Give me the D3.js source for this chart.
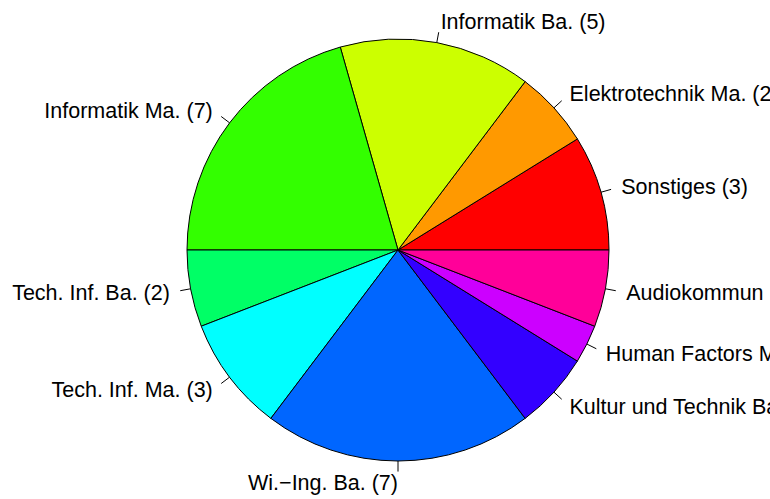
<!DOCTYPE html>
<html>
<head>
<meta charset="utf-8">
<script src="https://cdn.jsdelivr.net/npm/d3@7"></script>
<style>
  html, body { margin: 0; padding: 0; background: #fff; overflow: hidden; }
</style>
</head>
<body>
<div id="chart"></div>
<script>
// slices, counter-clockwise from 3 o'clock (R pie order)
const labels = [
  "Sonstiges (3)",
  "Elektrotechnik Ma. (2)",
  "Informatik Ba. (5)",
  "Informatik Ma. (7)",
  "Tech. Inf. Ba. (2)",
  "Tech. Inf. Ma. (3)",
  "Wi.\u2212Ing. Ba. (7)",
  "Kultur und Technik Ba. (2)",
  "Human Factors Ma. (1)",
  "Audiokommun"
];
const counts = [3, 2, 5, 7, 2, 3, 7, 2, 1, 2];
const colors = ["#FF0000", "#FF9900", "#CCFF00", "#33FF00", "#00FF66",
                "#00FFFF", "#0066FF", "#3300FF", "#CC00FF", "#FF0099"];

const width = 770, height = 499;
const cx = 398, cy = 250, r = 211;

const svg = d3.select("#chart").append("svg")
  .attr("width", width)
  .attr("height", height)
  .style("display", "block");

const g = svg.append("g")
  .attr("transform", "translate(" + cx + "," + cy + ")");

const data = counts.map((v, i) => ({ label: labels[i], value: v, color: colors[i] }));

// d3 angles run clockwise from 12 o'clock, so go from 90deg backwards
const pie = d3.pie()
  .value(d => d.value)
  .sort(null)
  .startAngle(Math.PI / 2)
  .endAngle(Math.PI / 2 - 2 * Math.PI);

const arc = d3.arc().innerRadius(0).outerRadius(r);
const arcs = pie(data);

g.selectAll("path.slice")
  .data(arcs)
  .join("path")
  .attr("class", "slice")
  .attr("d", arc)
  .attr("fill", d => d.data.color)
  .attr("stroke", "#000")
  .attr("stroke-width", 1);

const mid = d => (d.startAngle + d.endAngle) / 2;

// tick marks
g.selectAll("line.tick")
  .data(arcs)
  .join("line")
  .attr("class", "tick")
  .attr("x1", d => r * Math.sin(mid(d)))
  .attr("y1", d => -r * Math.cos(mid(d)))
  .attr("x2", d => 1.05 * r * Math.sin(mid(d)))
  .attr("y2", d => -1.05 * r * Math.cos(mid(d)))
  .attr("stroke", "#000")
  .attr("stroke-width", 1);

g.selectAll("text.lab")
  .data(arcs)
  .join("text")
  .attr("class", "lab")
  .attr("x", d => 1.1 * r * Math.sin(mid(d)))
  .attr("y", d => -1.1 * r * Math.cos(mid(d)))
  .attr("dy", "0.35em")
  .attr("text-anchor", d => Math.sin(mid(d)) < 0 ? "end" : "start")
  .style("font-family", "'Liberation Sans', Arial, Helvetica, sans-serif")
  .style("font-size", "21.5px")
  .attr("fill", "#000")
  .text(d => d.data.label);
</script>
</body>
</html>
